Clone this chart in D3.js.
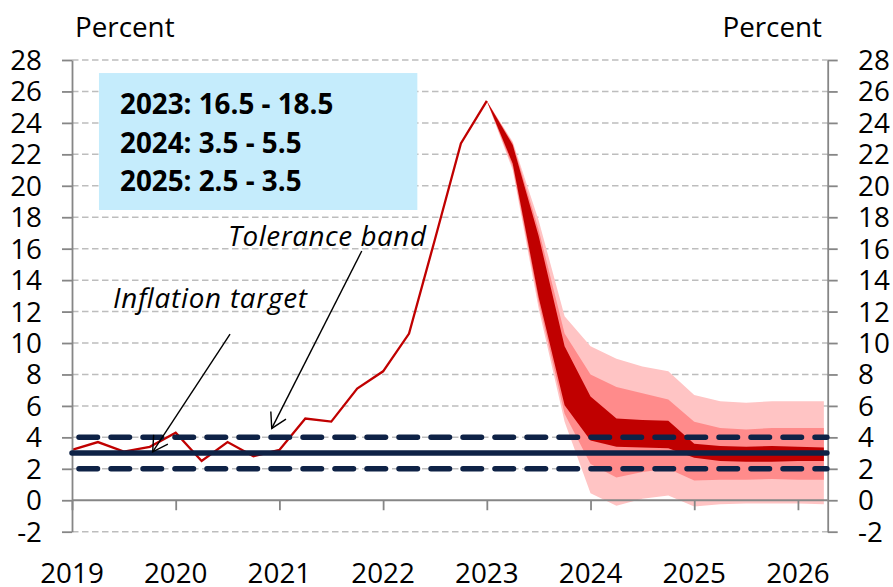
<!DOCTYPE html>
<html>
<head>
<meta charset="utf-8">
<script src="https://cdn.jsdelivr.net/npm/d3@7/dist/d3.min.js"></script>
<style>
  html, body { margin: 0; padding: 0; background: #ffffff; }
  svg { display: block; }
  text { font-family: "Open Sans", Lato, sans-serif; fill: #000; }
</style>
</head>
<body>
<svg id="chart" width="893" height="587"></svg>
<script>
// ---------------- DATA ----------------
const histQuarters = ["2019Q1","2019Q2","2019Q3","2019Q4","2020Q1","2020Q2","2020Q3","2020Q4",
  "2021Q1","2021Q2","2021Q3","2021Q4","2022Q1","2022Q2","2022Q3","2022Q4","2023Q1"];
const histInflation = [3.2, 3.7, 3.1, 3.4, 4.3, 2.5, 3.7, 2.8, 3.2, 5.2, 5.0, 7.1, 8.2, 10.6, 16.6, 22.7, 25.4];

const fanQuarters = ["2023Q1","2023Q2","2023Q3","2023Q4","2024Q1","2024Q2","2024Q3","2024Q4",
  "2025Q1","2025Q2","2025Q3","2025Q4","2026Q1","2026Q2"];
const band90Upper = [25.4, 22.8, 17.8, 11.7, 9.8, 9.0, 8.5, 8.2, 6.7, 6.3, 6.2, 6.3, 6.3, 6.3];
const band60Upper = [25.4, 22.7, 17.2, 10.6, 8.0, 7.2, 6.8, 6.4, 5.0, 4.6, 4.5, 4.6, 4.6, 4.6];
const band30Upper = [25.4, 22.6, 16.8, 9.8, 6.6, 5.2, 5.1, 5.05, 3.6, 3.45, 3.4, 3.45, 3.4, 3.35];
const band30Lower = [25.4, 21.4, 12.9, 6.05, 3.8, 3.4, 3.35, 3.3, 2.7, 2.5, 2.45, 2.45, 2.5, 2.5];
const band60Lower = [25.4, 21.2, 12.6, 5.5, 2.3, 1.45, 1.8, 2.0, 1.25, 1.3, 1.3, 1.35, 1.3, 1.3];
const band90Lower = [25.4, 21.0, 12.2, 5.0, 0.45, -0.35, 0.1, 0.3, -0.4, -0.25, -0.2, -0.2, -0.2, -0.25];

const inflationTarget = 3;
const toleranceBand = [2, 4];

const yearLabels = ["2019","2020","2021","2022","2023","2024","2025","2026"];
const yTicks = [-2,0,2,4,6,8,10,12,14,16,18,20,22,24,26,28];

const boxLines = ["2023: 16.5 - 18.5", "2024: 3.5 - 5.5", "2025: 2.5 - 3.5"];
const axisTitle = "Percent";
const labelTarget = "Inflation target";
const labelTolerance = "Tolerance band";

// ---------------- SCALES ----------------
const svg = d3.select("#chart");
const W = 893, H = 587;
svg.append("rect").attr("width", W).attr("height", H).attr("fill", "#fff");

const parseQ = q => +q.slice(0, 4) + (+q.slice(5) - 1) / 4;

const x = d3.scaleLinear().domain([2019, 2026.287]).range([72, 827.7]);
const y = d3.scaleLinear().domain([-2, 28]).range([531.7, 60]);

const x0 = x.range()[0], x1 = x.range()[1];
const FS = 27.8;

// ---------------- GRIDLINES ----------------
svg.append("g").selectAll("line")
  .data(yTicks.filter(v => v !== 0))
  .join("line")
  .attr("x1", x0).attr("x2", x1)
  .attr("y1", d => y(d)).attr("y2", d => y(d))
  .attr("stroke", "#bdbdbd").attr("stroke-width", 1.5)
  .attr("stroke-dasharray", "6.5,3.5");

// ---------------- INFO BOX ----------------
svg.append("rect")
  .attr("x", x(2019.26)).attr("y", y(27.17))
  .attr("width", x(2022.33) - x(2019.26))
  .attr("height", y(18.46) - y(27.17))
  .attr("fill", "#c5ecfc");

svg.append("g").selectAll("text")
  .data(boxLines)
  .join("text")
  .attr("x", 120)
  .attr("y", (d, i) => 114 + i * 38.7)
  .attr("font-size", FS)
  .attr("font-weight", "bold")
  .text(d => d);

// ---------------- FAN ----------------
const fan = fanQuarters.map((q, i) => ({
  t: parseQ(q),
  u90: band90Upper[i], l90: band90Lower[i],
  u60: band60Upper[i], l60: band60Lower[i],
  u30: band30Upper[i], l30: band30Lower[i]
}));
const area = (lo, hi) => d3.area().x(d => x(d.t)).y0(d => y(d[lo])).y1(d => y(d[hi]));

svg.append("path").datum(fan).attr("d", area("l90", "u90")).attr("fill", "#ffc4c4");
svg.append("path").datum(fan).attr("d", area("l60", "u60")).attr("fill", "#ff8b8b");
svg.append("path").datum(fan).attr("d", area("l30", "u30")).attr("fill", "#c00000");

// ---------------- HISTORY LINE ----------------
const hist = histQuarters.map((q, i) => ({ t: parseQ(q), v: histInflation[i] }));
svg.append("path").datum(hist)
  .attr("d", d3.line().x(d => x(d.t)).y(d => y(d.v)))
  .attr("fill", "none").attr("stroke", "#c00000").attr("stroke-width", 2.3)
  .attr("stroke-linejoin", "miter");

// ---------------- AXES ----------------
const axisColor = "#868686";
svg.append("line").attr("x1", x0).attr("x2", x1).attr("y1", y(0)).attr("y2", y(0))
  .attr("stroke", axisColor).attr("stroke-width", 1.8);
const xAxis = d3.axisBottom(x)
  .tickValues(yearLabels.map(Number))
  .tickFormat("")
  .tickSize(10)
  .tickSizeOuter(0);
const gx = svg.append("g").attr("transform", `translate(0,${y(0)})`).call(xAxis);
gx.select(".domain").remove();
gx.selectAll(".tick line").attr("stroke", axisColor).attr("stroke-width", 1.8);

svg.append("g").selectAll("text")
  .data(yearLabels)
  .join("text")
  .attr("x", d => x(+d))
  .attr("y", 583)
  .attr("text-anchor", "middle")
  .attr("font-size", FS)
  .text(d => d);

const yAxisL = d3.axisLeft(y).tickValues(yTicks).tickFormat("").tickSize(10).tickSizeOuter(0);
const gl = svg.append("g").attr("transform", `translate(${x0},0)`).call(yAxisL);
gl.select(".domain").attr("stroke", axisColor).attr("stroke-width", 1.8);
gl.selectAll(".tick line").attr("stroke", axisColor).attr("stroke-width", 1.8);

const yAxisR = d3.axisRight(y).tickValues(yTicks).tickFormat("").tickSize(10).tickSizeOuter(0);
const gr = svg.append("g").attr("transform", `translate(${x1},0)`).call(yAxisR);
gr.select(".domain").attr("stroke", axisColor).attr("stroke-width", 1.8);
gr.selectAll(".tick line").attr("stroke", axisColor).attr("stroke-width", 1.8);

svg.append("g").selectAll("text")
  .data(yTicks)
  .join("text")
  .attr("x", 42).attr("y", d => y(d) + 10)
  .attr("text-anchor", "end").attr("font-size", FS)
  .text(d => d);
svg.append("g").selectAll("text")
  .data(yTicks)
  .join("text")
  .attr("x", 858).attr("y", d => y(d) + 10)
  .attr("text-anchor", "start").attr("font-size", FS)
  .text(d => d);

svg.append("text").attr("x", 75).attr("y", 37).attr("font-size", FS).text(axisTitle);
svg.append("text").attr("x", 822).attr("y", 37).attr("text-anchor", "end").attr("font-size", FS).text(axisTitle);

// ---------------- TARGET + TOLERANCE ----------------
const navy = "#0e2246";
svg.append("line").attr("x1", x0).attr("x2", x(2026.25) + 3)
  .attr("y1", y(inflationTarget)).attr("y2", y(inflationTarget))
  .attr("stroke", navy).attr("stroke-width", 5.5).attr("stroke-linecap", "round");

svg.append("g").selectAll("line")
  .data(toleranceBand)
  .join("line")
  .attr("x1", x0).attr("x2", x(2026.25) + 3)
  .attr("y1", d => y(d)).attr("y2", d => y(d))
  .attr("stroke", navy).attr("stroke-width", 5.5)
  .attr("stroke-linecap", "round")
  .attr("stroke-dasharray", "18.5,13.5")
  .attr("stroke-dashoffset", 25);

// ---------------- ANNOTATIONS ----------------
svg.append("text").attr("x", 228).attr("y", 245.5)
  .attr("font-size", FS).attr("font-style", "italic")
  .attr("textLength", 198).attr("lengthAdjust", "spacing").text(labelTolerance);
svg.append("text").attr("x", 113).attr("y", 307.5)
  .attr("font-size", FS).attr("font-style", "italic")
  .attr("textLength", 194).attr("lengthAdjust", "spacing").text(labelTarget);

function arrow(t0, v0, t1, v1) {
  const ax = x(t0), ay = y(v0), bx = x(t1), by = y(v1);
  const ang = Math.atan2(ay - by, ax - bx);
  const L = 17, a = Math.PI / 6;
  const g = svg.append("g").attr("stroke", "#000").attr("stroke-width", 1.4).attr("fill", "none");
  g.append("line").attr("x1", ax).attr("y1", ay).attr("x2", bx).attr("y2", by);
  g.append("path").attr("d",
    `M${bx + L * Math.cos(ang - a)},${by + L * Math.sin(ang - a)}L${bx},${by}L${bx + L * Math.cos(ang + a)},${by + L * Math.sin(ang + a)}`);
}
arrow(2020.524, 10.57, 2019.778, 3.08);
arrow(2021.794, 15.85, 2020.926, 4.57);
</script>
</body>
</html>
